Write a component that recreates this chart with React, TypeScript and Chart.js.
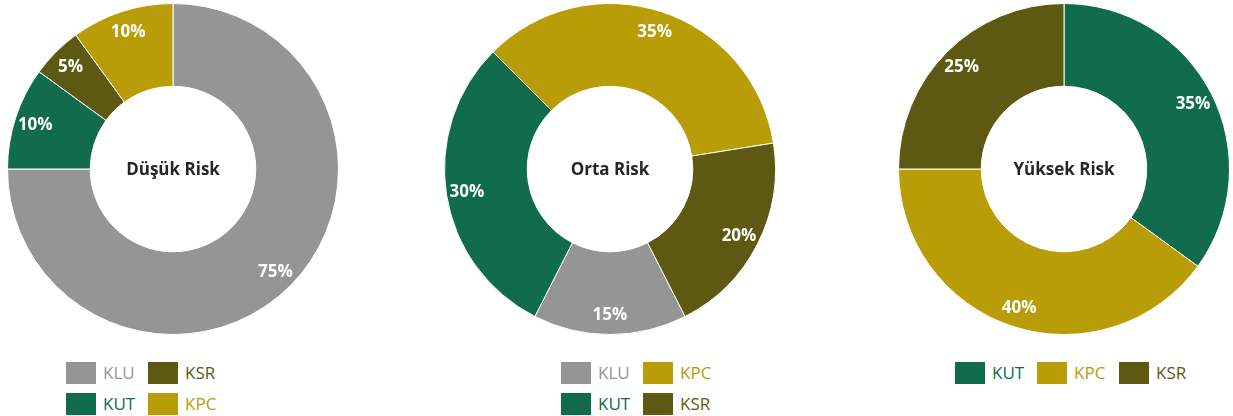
import React, { useEffect, useRef } from "react";
import { Chart, registerables } from "chart.js";

Chart.register(...registerables);

const COLORS: Record<string, string> = {
  KLU: "#959595",
  KUT: "#106C4D",
  KSR: "#5E5912",
  KPC: "#B89D08",
};

const lowLabels = ["KLU", "KUT", "KSR", "KPC"];
const lowValues = [75, 10, 5, 10];
const midLabels = ["KLU", "KUT", "KPC", "KSR"];
const midValues = [15, 30, 35, 20];
const highLabels = ["KUT", "KPC", "KSR"];
const highValues = [35, 40, 25];
const titles = ["Düşük Risk", "Orta Risk", "Yüksek Risk"];

const FONT = "'Open Sans', sans-serif";

const labelPlugin = {
  id: "donutLabels",
  afterDatasetsDraw(chart: any, _args: any, opts: any) {
    const ctx = chart.ctx;
    const meta = chart.getDatasetMeta(0);
    const ds = chart.data.datasets[0];
    ctx.save();
    ctx.textAlign = "center";
    ctx.textBaseline = "middle";
    ctx.fillStyle = "#ffffff";
    ctx.font = `bold 17px ${FONT}`;
    meta.data.forEach((arc: any, i: number) => {
      const { x, y, startAngle, endAngle, outerRadius } = arc.getProps(
        ["x", "y", "startAngle", "endAngle", "outerRadius"],
        true
      );
      const mid = (startAngle + endAngle) / 2;
      const r = outerRadius * 0.875;
      ctx.fillText(ds.data[i] + "%", x + Math.cos(mid) * r, y + Math.sin(mid) * r + 1);
    });
    const a0 = meta.data[0];
    ctx.fillStyle = "#262626";
    ctx.font = `bold 17px ${FONT}`;
    ctx.fillText(opts.title, a0.x, a0.y + 1);
    ctx.restore();
  },
};

function Donut({
  labels,
  values,
  rotation,
  title,
  left,
}: {
  labels: string[];
  values: number[];
  rotation: number;
  title: string;
  left: number;
}) {
  const ref = useRef<HTMLCanvasElement>(null);
  useEffect(() => {
    if (!ref.current) return;
    const chart = new Chart(ref.current, {
      type: "doughnut",
      data: {
        labels,
        datasets: [
          {
            data: values,
            backgroundColor: labels.map((l) => COLORS[l]),
            borderColor: "#ffffff",
            borderWidth: 1,
          },
        ],
      },
      options: {
        animation: false,
        responsive: false,
        maintainAspectRatio: false,
        cutout: "50%",
        rotation,
        layout: { padding: 0 },
        plugins: {
          legend: { display: false },
          tooltip: { enabled: false },
          donutLabels: { title },
        } as any,
      },
      plugins: [labelPlugin],
    });
    return () => chart.destroy();
  }, []);
  return (
    <canvas
      ref={ref}
      width={332}
      height={332}
      style={{ position: "absolute", left, top: 3, width: 332, height: 332 }}
    />
  );
}

function Legend({
  labels,
  rows,
  left,
}: {
  labels: string[];
  rows: number;
  left: number;
}) {
  return (
    <>
      {labels.map((l, i) => {
        const col = Math.floor(i / rows);
        const row = i % rows;
        return (
          <div
            key={l}
            style={{
              position: "absolute",
              left: left + col * 82,
              top: 361 + row * 31,
              height: 23,
              display: "flex",
              alignItems: "center",
              fontFamily: FONT,
              fontSize: 17,
              color: COLORS[l],
            }}
          >
            <div style={{ width: 30, height: 22, background: COLORS[l], marginRight: 7 }} />
            <span>{l}</span>
          </div>
        );
      })}
    </>
  );
}

export default function App() {
  return (
    <div
      style={{
        position: "fixed",
        left: 0,
        top: 0,
        width: 1233,
        height: 416,
        background: "#ffffff",
      }}
    >
      <Donut labels={lowLabels} values={lowValues} rotation={0} title={titles[0]} left={7} />
      <Donut labels={midLabels} values={midValues} rotation={153} title={titles[1]} left={444} />
      <Donut labels={highLabels} values={highValues} rotation={0} title={titles[2]} left={898} />
      <Legend labels={lowLabels} rows={2} left={66} />
      <Legend labels={midLabels} rows={2} left={561} />
      <Legend labels={highLabels} rows={1} left={955} />
    </div>
  );
}
